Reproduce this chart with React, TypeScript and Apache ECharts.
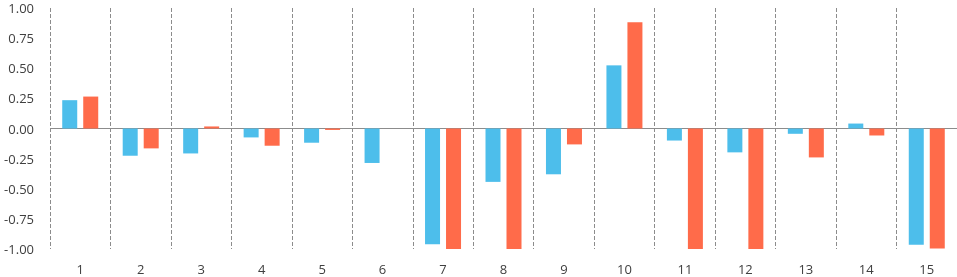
import React, { useEffect, useRef } from "react";
import * as echarts from "echarts";

const categories = ["1","2","3","4","5","6","7","8","9","10","11","12","13","14","15"];
const seriesA = [0.235, -0.226, -0.207, -0.074, -0.118, -0.286, -0.96, -0.443, -0.38, 0.524, -0.10, -0.198, -0.044, 0.041, -0.964];
const seriesB = [0.265, -0.165, 0.017, -0.143, -0.012, 0, -1.0, -1.0, -0.132, 0.882, -1.0, -1.0, -0.24, -0.058, -0.995];

export default function App() {
  const ref = useRef<HTMLDivElement>(null);
  useEffect(() => {
    if (!ref.current) return;
    const chart = echarts.init(ref.current, undefined, { renderer: "svg" });
    chart.setOption({
      animation: false,
      grid: { left: 50, right: 0, top: 8, bottom: 28, containLabel: false, outerBoundsMode: "none" },
      xAxis: {
        type: "category",
        data: categories,
        axisLine: { show: false, onZero: false },
        axisTick: { show: false },
        axisLabel: { color: "#404040", fontSize: 13, fontFamily: "Open Sans", margin: 13 },
        splitLine: { show: true, interval: 0, lineStyle: { type: "dashed", color: "#8c8c8c", width: 1 } },
      },
      yAxis: {
        type: "value",
        min: -1,
        max: 1,
        interval: 0.25,
        axisLine: { show: false },
        axisTick: { show: false },
        splitLine: { show: false },
        axisLabel: {
          color: "#404040",
          fontSize: 13,
          lineHeight: 14,
          fontFamily: "Open Sans",
          margin: 16,
          formatter: (v: number) => v.toFixed(2),
        },
      },
      series: [
        {
          type: "bar", data: seriesA, barWidth: 15, barGap: "40%", itemStyle: { color: "#4DBEEB" },
          markLine: {
            silent: true, symbol: "none", label: { show: false }, z: 1,
            lineStyle: { type: "solid", color: "#8c8c8c", width: 1 },
            data: [{ yAxis: 0 }],
          },
        },
        { type: "bar", data: seriesB, barWidth: 15, barGap: "40%", z: 3, itemStyle: { color: "#FF6B4A" } },
      ],
    });
    return () => chart.dispose();
  }, []);
  return <div ref={ref} style={{ position: "fixed", left: 0, top: 0, width: 957, height: 277 }} />;
}
